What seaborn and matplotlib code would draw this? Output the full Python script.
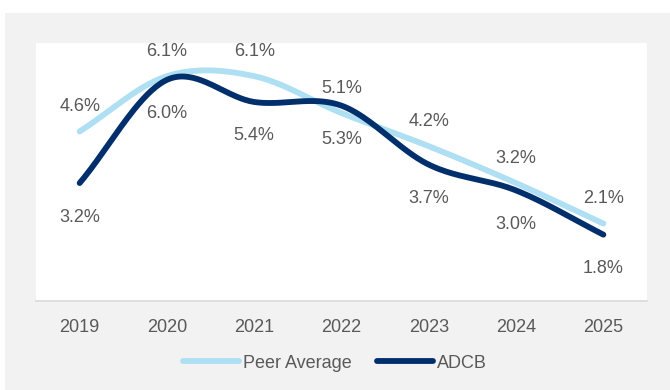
import numpy as np
import pandas as pd
import matplotlib
matplotlib.use("Agg")
import matplotlib.pyplot as plt
from matplotlib.patches import Rectangle
import seaborn as sns

years = ["2019", "2020", "2021", "2022", "2023", "2024", "2025"]
peer_average = [4.6, 6.1, 6.1, 5.1, 4.2, 3.2, 2.1]
adcb = [3.2, 6.0, 5.4, 5.3, 3.7, 3.0, 1.8]

series_names = ["Peer Average", "ADCB"]
series_colors = {"Peer Average": "#AEDFF2", "ADCB": "#002F6C"}
text_color = "#595959"


def smooth_curve(values, steps=40):
    """Catmull-Rom spline through the points, like a spreadsheet 'smoothed line'."""
    y = np.asarray(values, dtype=float)
    x = np.arange(len(y), dtype=float)
    px = np.concatenate([[2 * x[0] - x[1]], x, [2 * x[-1] - x[-2]]])
    py = np.concatenate([[2 * y[0] - y[1]], y, [2 * y[-1] - y[-2]]])
    xs, ys = [], []
    for i in range(1, len(px) - 2):
        t = np.linspace(0, 1, steps, endpoint=False)
        for arr, out in ((px, xs), (py, ys)):
            p0, p1, p2, p3 = arr[i - 1], arr[i], arr[i + 1], arr[i + 2]
            out.extend(0.5 * ((2 * p1) + (-p0 + p2) * t
                              + (2 * p0 - 5 * p1 + 4 * p2 - p3) * t ** 2
                              + (-p0 + 3 * p1 - 3 * p2 + p3) * t ** 3))
    xs.append(x[-1])
    ys.append(y[-1])
    return np.array(xs), np.array(ys)


frames = []
for name, vals in zip(series_names, [peer_average, adcb]):
    cx, cy = smooth_curve(vals)
    frames.append(pd.DataFrame({"x": cx, "value": cy, "series": name}))
curves = pd.concat(frames, ignore_index=True)

sns.set_theme(style="white")
plt.rcParams["font.family"] = ["Liberation Sans", "DejaVu Sans"]

fig = plt.figure(figsize=(6.7, 3.9), dpi=100, facecolor="white")
fig.add_artist(Rectangle((5 / 670, 0), 1, (390 - 13) / 390,
                         transform=fig.transFigure, facecolor="#F2F2F2",
                         edgecolor="none", zorder=-5))
ax = fig.add_axes([36 / 670, (390 - 301) / 390, (647 - 36) / 670, (301 - 43) / 390])
ax.set_zorder(1)
ax.set_facecolor("white")

sns.lineplot(data=curves, x="x", y="value", hue="series", hue_order=series_names,
             palette=series_colors, linewidth=4.2, sort=False, estimator=None,
             ax=ax, solid_capstyle="round")

ax.set_xlim(-0.5, len(years) - 0.5)
ax.set_ylim(0, 7)
ax.set_xticks(range(len(years)))
ax.set_xticklabels(years, fontsize=13, color=text_color)
ax.set_yticks([])
ax.tick_params(axis="x", length=0, pad=13)
ax.set_xlabel("")
ax.set_ylabel("")
for side in ["top", "left", "right"]:
    ax.spines[side].set_visible(False)
ax.spines["bottom"].set_color("#D9D9D9")
ax.spines["bottom"].set_linewidth(1.2)

for i, (p, a) in enumerate(zip(peer_average, adcb)):
    ax.annotate(f"{p:.1f}%", (i, p), xytext=(0, 18), textcoords="offset points",
                ha="center", va="center", fontsize=13, color=text_color)
    ax.annotate(f"{a:.1f}%", (i, a), xytext=(0, -24.5), textcoords="offset points",
                ha="center", va="center", fontsize=13, color=text_color)

handles, labels = ax.get_legend_handles_labels()
for h in handles:
    h.set_solid_capstyle("round")
leg = fig.legend(handles, labels, loc="center", bbox_to_anchor=(0.5, (390 - 363) / 390),
                 ncol=2, frameon=False, fontsize=13, handlelength=3.1,
                 handletextpad=0.2, columnspacing=1.4, labelcolor=text_color)
ax.get_legend().remove()

fig.savefig("out.png", dpi=100, facecolor=fig.get_facecolor())
